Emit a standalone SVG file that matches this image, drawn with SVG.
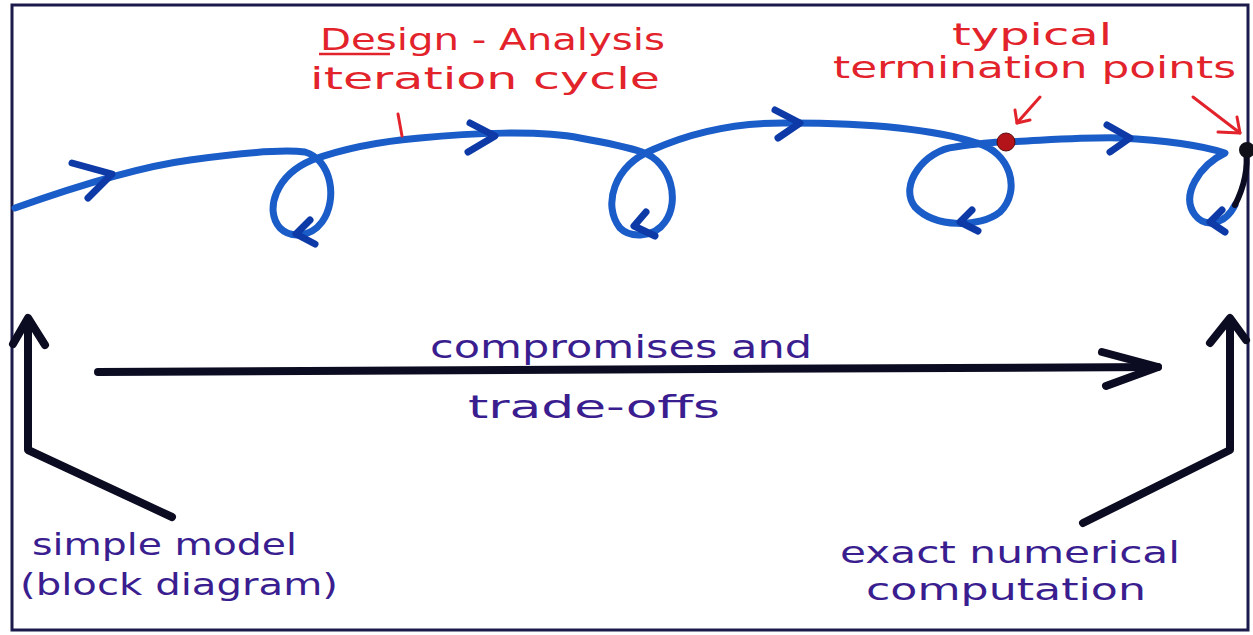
<svg xmlns="http://www.w3.org/2000/svg" width="1253" height="635" viewBox="0 0 1253 635">
  <style>
    .frame { fill: #ffffff; stroke: #1b1a4a; stroke-width: 3; }
    .cycle { fill: none; stroke: #1a5cc8; stroke-width: 7; stroke-linecap: round; stroke-linejoin: round; }
    .head { fill: none; stroke: #0d3aa6; stroke-width: 7; stroke-linecap: round; stroke-linejoin: round; }
    .ink { fill: none; stroke: #0b0b22; stroke-width: 8; stroke-linecap: round; stroke-linejoin: round; }
    .redtxt { font-family: "DejaVu Sans", "Liberation Sans", sans-serif; fill: #e3232b; }
    .bluetxt { font-family: "DejaVu Sans", "Liberation Sans", sans-serif; fill: #3a1e90; }
    .pointer { fill: none; stroke: #e3232b; stroke-width: 3; stroke-linecap: round; stroke-linejoin: round; }
  </style>

  <rect class="frame" x="12" y="5" width="1236" height="625"/>

  <!-- design-analysis cycle: a drifting line with a loop at each iteration -->
  <g id="connectors">
    <path class="cycle" d="M 15,208 C 60,192 130,168 190,160 C 240,153 280,149 305,152
      C 332,160 338,200 322,222 C 310,238 290,238 280,228 C 264,210 276,175 312,160
      C 345,148 385,141 420,138 C 470,133 540,130 580,138 C 608,143 630,148 642,152
      C 672,162 680,202 665,222 C 654,238 630,238 620,228 C 602,205 614,166 652,150
      C 692,132 740,122 790,123 C 860,123 930,128 977,143
      C 1010,152 1022,190 1000,212 C 980,228 935,228 915,207 C 898,185 925,150 955,147
      C 975,144 990,142 1005,142 C 1050,140 1090,137 1120,138 C 1160,140 1200,145 1225,153
      C 1200,165 1180,195 1195,215 C 1205,228 1225,225 1235,205" />
    <!-- dark end of last loop -->
    <path class="ink" style="stroke-width:6" d="M 1235,205 C 1245,185 1248,165 1246,150"/>

    <!-- direction marks along the cycle -->
    <polyline class="head" points="72,163 112,174 88,198"/>
    <polyline class="head" points="470,123 495,136 468,152"/>
    <polyline class="head" points="775,110 800,123 778,138"/>
    <polyline class="head" points="1107,125 1130,138 1110,152"/>
    <!-- loop return marks -->
    <polyline class="head" points="310,220 296,234 315,244"/>
    <polyline class="head" points="646,212 634,226 655,236"/>
    <polyline class="head" points="972,210 960,222 978,231"/>
    <polyline class="head" points="1222,210 1210,222 1225,232"/>

    <!-- red pointers to termination points -->
    <line class="pointer" x1="1040" y1="97" x2="1017" y2="123"/>
    <polyline class="pointer" points="1015,110 1017,123 1030,120"/>
    <line class="pointer" x1="1193" y1="97" x2="1240" y2="133"/>
    <polyline class="pointer" points="1218,132 1240,133 1237,117"/>
    <line class="pointer" x1="398" y1="114" x2="402" y2="136"/>

    <!-- compromises and trade-offs axis -->
    <line class="ink" x1="98" y1="372" x2="1158" y2="367"/>
    <polyline class="ink" points="1102,352 1158,367 1106,386"/>

    <!-- left marker: simple model -->
    <polyline class="ink" points="172,517 28,450 28,320"/>
    <polyline class="ink" points="13,344 28,318 45,345"/>

    <!-- right marker: exact numerical computation -->
    <polyline class="ink" points="1083,523 1230,450 1230,322"/>
    <polyline class="ink" points="1210,343 1230,318 1246,340"/>
  </g>

  <!-- termination point markers -->
  <circle cx="1006" cy="142" r="9" fill="#b3141a" stroke="#5a0a0a" stroke-width="1"/>
  <circle cx="1247" cy="150" r="8" fill="#101018"/>

  <g id="cycle-label">
    <text class="redtxt" x="320" y="50" font-size="30" textLength="345" lengthAdjust="spacingAndGlyphs">Design - Analysis</text>
    <line x1="319" y1="54" x2="390" y2="54" stroke="#e3232b" stroke-width="2.5"/>
    <text class="redtxt" x="310" y="89" font-size="30" textLength="350" lengthAdjust="spacingAndGlyphs">iteration cycle</text>
  </g>

  <g id="termination-label">
    <text class="redtxt" x="952" y="45" font-size="30" textLength="160" lengthAdjust="spacingAndGlyphs">typical</text>
    <text class="redtxt" x="833" y="78" font-size="30" textLength="403" lengthAdjust="spacingAndGlyphs">termination points</text>
  </g>

  <g id="tradeoff-label">
    <text class="bluetxt" x="430" y="358" font-size="32" textLength="382" lengthAdjust="spacingAndGlyphs">compromises and</text>
    <text class="bluetxt" x="468" y="418" font-size="32" textLength="252" lengthAdjust="spacingAndGlyphs">trade-offs</text>
  </g>

  <g id="simple-model">
    <text class="bluetxt" x="32" y="555" font-size="30" textLength="265" lengthAdjust="spacingAndGlyphs">simple model</text>
    <text class="bluetxt" x="20" y="595" font-size="30" textLength="318" lengthAdjust="spacingAndGlyphs">(block diagram)</text>
  </g>

  <g id="exact-computation">
    <text class="bluetxt" x="840" y="563" font-size="30" textLength="340" lengthAdjust="spacingAndGlyphs">exact numerical</text>
    <text class="bluetxt" x="866" y="600" font-size="30" textLength="280" lengthAdjust="spacingAndGlyphs">computation</text>
  </g>
</svg>
